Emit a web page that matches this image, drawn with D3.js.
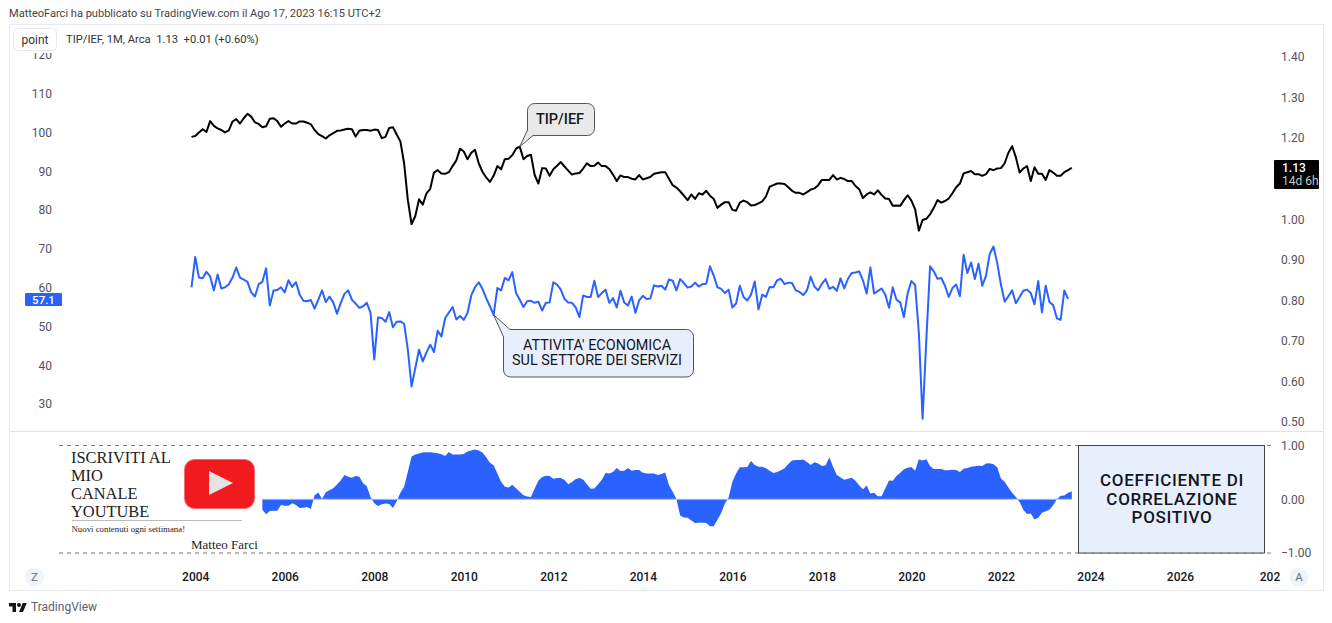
<!DOCTYPE html>
<html>
<head>
<meta charset="utf-8">
<title>TIP/IEF</title>
<script src="https://d3js.org/d3.v7.min.js"></script>
<style>
  html, body { margin: 0; padding: 0; background: #fff; }
  svg { display: block; }
  text { font-family: Roboto, "Noto Sans", sans-serif; }
  .axis text { font-family: Roboto, sans-serif; font-size: 12px; fill: #50535e; }
  .axis .domain { display: none; }
  .time text { fill: #131722; font-weight: 500; }
  .serif { font-family: "Liberation Serif", serif; fill: #222; }
</style>
</head>
<body>
<svg id="chart" width="1332" height="623"></svg>
<script>
// valori, mensili da dic 2003 ad ago 2023
const tipIef = [
  1.203,1.205,1.214,1.222,1.215,1.242,1.230,1.224,1.220,1.214,1.219,1.241,1.247,1.236,1.249,1.260,1.253,1.239,1.235,1.227,
  1.229,1.248,1.249,1.242,1.228,1.236,1.242,1.236,1.236,1.241,1.241,1.238,1.234,1.220,1.210,1.205,1.199,1.207,1.212,1.218,
  1.219,1.221,1.223,1.222,1.204,1.218,1.220,1.220,1.218,1.221,1.220,1.200,1.203,1.225,1.227,1.209,1.192,1.138,1.047,0.988,
  1.008,1.049,1.036,1.064,1.075,1.115,1.121,1.113,1.112,1.116,1.131,1.145,1.174,1.167,1.148,1.164,1.171,1.138,1.117,1.103,
  1.092,1.107,1.131,1.123,1.148,1.149,1.158,1.174,1.179,1.148,1.156,1.159,1.109,1.088,1.126,1.125,1.107,1.123,1.132,1.141,
  1.130,1.120,1.110,1.113,1.114,1.125,1.138,1.131,1.132,1.140,1.131,1.131,1.124,1.110,1.094,1.108,1.104,1.104,1.100,1.098,
  1.109,1.098,1.101,1.104,1.112,1.114,1.116,1.116,1.100,1.084,1.078,1.069,1.058,1.047,1.061,1.050,1.064,1.061,1.070,1.058,
  1.050,1.028,1.036,1.042,1.042,1.023,1.021,1.041,1.046,1.042,1.034,1.035,1.039,1.044,1.056,1.080,1.084,1.088,1.088,1.087,
  1.079,1.070,1.065,1.065,1.061,1.067,1.073,1.076,1.084,1.097,1.097,1.097,1.109,1.098,1.102,1.099,1.094,1.094,1.082,1.074,
  1.052,1.061,1.066,1.061,1.071,1.060,1.051,1.050,1.033,1.034,1.033,1.047,1.059,1.046,1.024,0.972,0.998,1.001,1.012,1.028,
  1.047,1.041,1.045,1.051,1.064,1.079,1.088,1.113,1.116,1.119,1.111,1.111,1.107,1.111,1.124,1.121,1.125,1.126,1.138,1.164,
  1.180,1.153,1.115,1.125,1.131,1.094,1.128,1.112,1.112,1.097,1.121,1.115,1.107,1.107,1.116,1.121,1.127
];
const services = [
  60.1,67.9,62.6,62.4,64.1,62.9,59.3,63.4,59.8,60.1,60.9,62.6,65.2,62.6,62.1,61.5,58.8,57.7,60.9,61.5,
  65.0,55.4,59.3,59.4,60.1,58.8,61.9,60.2,61.4,58.2,56.6,56.5,56.8,54.6,56.9,59.3,56.3,57.7,56.2,53.3,
  56.0,58.4,59.3,56.9,55.9,54.8,55.2,56.1,53.5,41.5,52.3,52.2,51.2,53.7,49.8,51.2,51.3,50.7,44.0,34.5,
  39.3,44.0,41.0,43.3,45.3,43.4,48.9,47.4,52.1,53.6,55.0,51.8,52.7,51.7,53.5,58.0,60.1,61.4,59.7,57.3,
  55.2,53.0,59.9,59.3,62.5,61.9,64.0,58.6,56.9,55.0,56.5,56.6,56.1,56.4,54.1,56.1,56.2,61.4,60.8,59.5,
  57.1,56.2,56.1,54.9,52.4,58.0,57.6,57.6,61.8,57.6,58.6,59.5,56.1,57.3,54.9,59.2,56.2,55.4,57.7,53.5,
  56.7,57.9,57.1,57.2,60.6,60.3,60.5,59.5,62.1,61.8,59.3,62.2,61.2,60.0,60.3,61.3,60.3,60.9,61.0,65.5,
  63.1,60.1,59.7,58.6,59.5,54.9,55.9,60.5,57.6,56.7,58.2,61.6,54.4,58.2,57.6,60.2,60.1,61.9,62.3,60.9,
  61.3,61.2,59.3,58.9,58.1,59.3,62.8,60.3,59.3,61.0,62.2,59.7,60.2,59.2,62.4,59.8,62.3,63.8,63.9,64.2,
  61.9,58.5,65.2,58.5,59.1,59.8,58.2,54.8,60.1,56.9,56.2,52.4,58.6,61.7,60.7,48.3,26.2,46.6,65.5,64.2,
  62.3,62.5,60.5,57.6,59.9,60.8,57.8,68.5,63.8,66.5,62.2,66.2,60.5,63.1,68.7,70.6,66.4,60.8,56.4,57.8,
  59.3,56.0,57.6,59.2,59.5,58.6,55.7,61.7,53.6,60.5,56.3,55.5,52.1,51.7,59.3,57.1
];
// il coefficiente parte dal mese 19 (finestra di 20 mesi)
const corrStart = 19;
const correlation = [
  -.194,-.281,-.219,-.213,-.213,-.106,-.119,-.119,-.075,-.106,-.163,-.156,-.144,-.181,.075,.125,.006,.131,.169,.206,
  .275,.350,.450,.419,.400,.431,.419,.300,.244,.044,-.075,-.125,-.094,-.081,-.088,-.163,-.038,.119,.231,.513,
  .794,.831,.850,.869,.875,.875,.863,.856,.838,.806,.881,.831,.831,.831,.844,.888,.906,.925,.906,.869,
  .781,.681,.631,.481,.325,.231,.219,.269,.206,.138,.075,.050,.044,.200,.344,.413,.438,.431,.381,.394,
  .394,.356,.281,.319,.375,.394,.369,.281,.194,.200,.281,.363,.488,.481,.506,.581,.525,.531,.581,.531,
  .544,.544,.494,.481,.481,.481,.450,.469,.500,.263,.138,.006,-.300,-.338,-.344,-.394,-.444,-.438,-.438,-.444,
  -.500,-.500,-.381,-.256,-.081,.031,.325,.481,.594,.594,.600,.713,.638,.606,.606,.575,.531,.488,.506,.538,
  .575,.656,.719,.731,.731,.738,.694,.638,.688,.663,.619,.631,.781,.606,.450,.406,.363,.381,.400,.344,
  .256,.188,.256,.106,.119,.056,.056,.200,.350,.344,.431,.494,.556,.588,.600,.531,.744,.719,.744,.619,
  .563,.563,.563,.538,.538,.550,.544,.506,.569,.581,.606,.613,.625,.619,.663,.669,.650,.594,.388,.325,
  .219,.119,.044,-.050,-.194,-.275,-.263,-.375,-.344,-.250,-.225,-.194,-.113,0,.063,.069,.119,.144
];

const leftTicks = [30, 40, 50, 60, 70, 80, 90, 100, 110, 120];
const rightTicks = [0.5, 0.6, 0.7, 0.8, 0.9, 1.0, 1.2, 1.3, 1.4]; // 1.10 e' coperto dalla targhetta
const corrTicks = [-1, 0, 1];
const yearLabels = ["2004", "2006", "2008", "2010", "2012", "2014", "2016", "2018", "2020", "2022", "2024", "2026", "202"];
const yearIndex = [1, 25, 49, 73, 97, 121, 145, 169, 193, 217, 241, 265, 289];
const tipCallout = ["TIP/IEF"];
const servicesCallout = ["ATTIVITA' ECONOMICA", "SUL SETTORE DEI SERVIZI"];
const corrBox = ["COEFFICIENTE DI", "CORRELAZIONE", "POSITIVO"];
const logoLines = ["ISCRIVITI AL", "MIO", "CANALE", "YOUTUBE"];

const svg = d3.select("#chart");

// asse tempo: barre mensili equidistanti
const x = d3.scaleLinear().domain([0, 289]).range([191.5, 1269.5]);
const yLeft = d3.scaleLinear().domain([30, 120]).range([404, 55]);
const yRight = d3.scaleLinear().domain([0.5, 1.4]).range([422, 57]);
const yCorr = d3.scaleLinear().domain([-1, 1]).range([553, 445.5]);

// cornice
svg.append("rect").attr("x", 9.5).attr("y", 24.5).attr("width", 1314).attr("height", 566)
  .attr("fill", "none").attr("stroke", "#e8eaf0");
svg.append("line").attr("x1", 10).attr("x2", 1323).attr("y1", 431.5).attr("y2", 431.5).attr("stroke", "#e0e3eb");

svg.append("text").attr("x", 9).attr("y", 17).attr("font-size", 11.05).attr("fill", "#444")
  .text("MatteoFarci ha pubblicato su TradingView.com il Ago 17, 2023 16:15 UTC+2");

svg.append("defs").append("clipPath").attr("id", "leftClip")
  .append("rect").attr("x", 0).attr("y", 53).attr("width", 100).attr("height", 400);

// assi
svg.append("g").attr("class", "axis").attr("clip-path", "url(#leftClip)")
  .append("g").attr("transform", "translate(52,0)")
  .call(d3.axisLeft(yLeft).tickValues(leftTicks).tickSize(0).tickPadding(0));
svg.append("g").attr("class", "axis").attr("transform", "translate(1281,0)")
  .call(d3.axisRight(yRight).tickValues(rightTicks).tickSize(0).tickPadding(0).tickFormat(d3.format(".2f")));
svg.append("g").attr("class", "axis").attr("transform", "translate(1281,0)")
  .call(d3.axisRight(yCorr).tickValues(corrTicks).tickSize(0).tickPadding(0).tickFormat(d3.format(".2f")));
svg.append("g").attr("class", "axis time").attr("transform", "translate(0,572)")
  .call(d3.axisBottom(x).tickValues(yearIndex).tickSize(0).tickPadding(0).tickFormat((d, i) => yearLabels[i]));

// serie
const tipLine = d3.line().x((d, i) => x(i)).y(d => yRight(d));
const servLine = d3.line().x((d, i) => x(i)).y(d => yLeft(d));
svg.append("path").attr("d", tipLine(tipIef)).attr("fill", "none").attr("stroke", "#000").attr("stroke-width", 2).attr("stroke-linejoin", "round");
svg.append("path").attr("d", servLine(services)).attr("fill", "none").attr("stroke", "#2962ff").attr("stroke-width", 2).attr("stroke-linejoin", "round");

// pannello correlazione
svg.selectAll(".level").data([1, -1]).enter().append("line").attr("class", "level")
  .attr("x1", 59).attr("x2", 1273).attr("y1", d => yCorr(d)).attr("y2", d => yCorr(d))
  .attr("stroke", "#787b86").attr("stroke-dasharray", "4,4");
const corrArea = d3.area().x((d, i) => x(i + corrStart)).y0(yCorr(0)).y1(d => yCorr(d));
svg.append("path").attr("d", corrArea(correlation)).attr("fill", "#2962ff");
svg.append("line").attr("x1", x(corrStart)).attr("x2", x(corrStart + correlation.length - 1))
  .attr("y1", yCorr(0)).attr("y2", yCorr(0)).attr("stroke", "#a9c0ff").attr("stroke-width", 1);

// riquadro sul pannello
svg.append("rect").attr("x", 1078.5).attr("y", 445.5).attr("width", 186).attr("height", 107.5)
  .attr("fill", "#e8effc").attr("stroke", "#444");
svg.append("g").selectAll("text").data(corrBox).enter().append("text")
  .attr("x", 1172).attr("y", (d, i) => 486 + i * 18.5).attr("text-anchor", "middle")
  .attr("font-size", 17).attr("font-weight", 500).attr("letter-spacing", 0.7).attr("fill", "#131722").text(d => d);

// targhette di prezzo
svg.append("rect").attr("x", 25).attr("y", 293).attr("width", 37).attr("height", 13).attr("rx", 1).attr("fill", "#2962ff");
svg.append("text").attr("x", 43.5).attr("y", 303.5).attr("text-anchor", "middle").attr("font-size", 11.5).attr("font-weight", 500).attr("fill", "#fff").text(services[services.length - 1]);
svg.append("rect").attr("x", 1274).attr("y", 160).attr("width", 45).attr("height", 29).attr("rx", 1).attr("fill", "#000");
svg.append("text").attr("x", 1282).attr("y", 172).attr("font-size", 12).attr("font-weight", 500).attr("fill", "#fff").text("1.13");
svg.append("text").attr("x", 1282).attr("y", 185).attr("font-size", 12).attr("fill", "#c8c8c8").text("14d 6h");

// legenda
svg.append("rect").attr("x", 13.5).attr("y", 28.5).attr("width", 43).attr("height", 22).attr("rx", 4).attr("fill", "#fff").attr("stroke", "#e8eaf0");
svg.append("text").attr("x", 35).attr("y", 44).attr("text-anchor", "middle").attr("font-size", 12).attr("fill", "#333").text("point");
svg.append("text").attr("x", 66).attr("y", 43).attr("font-size", 11.2).attr("fill", "#333").attr("xml:space", "preserve").text("TIP/IEF, 1M, Arca  1.13  +0.01 (+0.60%)");

// callout: rettangolo arrotondato con la punta sul punto della serie
function callout(x0, y0, w, h, tip, a, b, corner, fill) {
  const r = 7;
  const p = d3.path();
  if (corner == "tl") {
    p.moveTo(a[0], a[1]);
  } else {
    p.moveTo(x0 + r, y0);
  }
  p.lineTo(x0 + w - r, y0);
  p.arcTo(x0 + w, y0, x0 + w, y0 + r, r);
  p.lineTo(x0 + w, y0 + h - r);
  p.arcTo(x0 + w, y0 + h, x0 + w - r, y0 + h, r);
  if (corner == "bl") {
    p.lineTo(a[0], a[1]);
    p.lineTo(tip[0], tip[1]);
    p.lineTo(b[0], b[1]);
    p.lineTo(x0, y0 + r);
    p.arcTo(x0, y0, x0 + r, y0, r);
  } else {
    p.lineTo(x0 + r, y0 + h);
    p.arcTo(x0, y0 + h, x0, y0 + h - r, r);
    p.lineTo(b[0], b[1]);
    p.lineTo(tip[0], tip[1]);
    p.closePath();
  }
  svg.append("path").attr("d", p.toString()).attr("fill", fill).attr("stroke", "#555").attr("stroke-width", 1);
}

callout(527.5, 103.5, 67, 32, [x(88), yRight(tipIef[88])], [533, 135.5], [527.5, 130], "bl", "#e9e9e9");
svg.append("text").attr("x", 560).attr("y", 124).attr("text-anchor", "middle").attr("font-size", 14.5).attr("font-weight", 500).attr("fill", "#131722").text(tipCallout[0]);

callout(503.5, 329.5, 190, 47.5, [x(81), yLeft(services[81])], [510, 329.5], [503.5, 337], "tl", "#e8eefc");
svg.append("g").selectAll("text").data(servicesCallout).enter().append("text")
  .attr("x", 597).attr("y", (d, i) => 350 + i * 14.5).attr("text-anchor", "middle")
  .attr("font-size", 14.4).attr("fill", "#131722").text(d => d);

// logo del canale
svg.append("g").selectAll("text").data(logoLines).enter().append("text")
  .attr("class", "serif").attr("x", 71).attr("y", (d, i) => 463 + i * 18)
  .attr("font-size", 16.4).text(d => d);
svg.append("line").attr("x1", 72).attr("x2", 242).attr("y1", 520.5).attr("y2", 520.5).attr("stroke", "#bbb");
svg.append("text").attr("class", "serif").attr("x", 71.5).attr("y", 532).attr("font-size", 8.8).text("Nuovi contenuti ogni settimana!");
svg.append("text").attr("class", "serif").attr("x", 191).attr("y", 549).attr("font-size", 13).text("Matteo Farci");
svg.append("rect").attr("x", 184.5).attr("y", 459.5).attr("width", 70).attr("height", 49).attr("rx", 10)
  .attr("fill", "#f01a1f").attr("stroke", "#f76a6d");
svg.append("path").attr("d", "M209,471L209,495L233,483Z").attr("fill", "#e3e3e3");

// pulsanti e marchio
[["Z", 34.5], ["A", 1299]].forEach(([t, cx]) => {
  svg.append("circle").attr("cx", cx).attr("cy", 577).attr("r", 9.5).attr("fill", "#f0f3fa");
  svg.append("text").attr("x", cx).attr("y", 581).attr("text-anchor", "middle").attr("font-size", 11.5).attr("fill", "#6a6d78").text(t);
});
const logo = svg.append("g").attr("transform", "translate(9,601) scale(0.5)").attr("fill", "#131722");
logo.append("path").attr("d", "M14 22H7V11H0V4h14v18zM28 22h-8l7.5-18h8L28 22z");
logo.append("circle").attr("cx", 20).attr("cy", 8).attr("r", 4);
svg.append("text").attr("x", 31).attr("y", 611).attr("font-size", 12).attr("fill", "#5d606b").text("TradingView");
</script>
</body>
</html>
